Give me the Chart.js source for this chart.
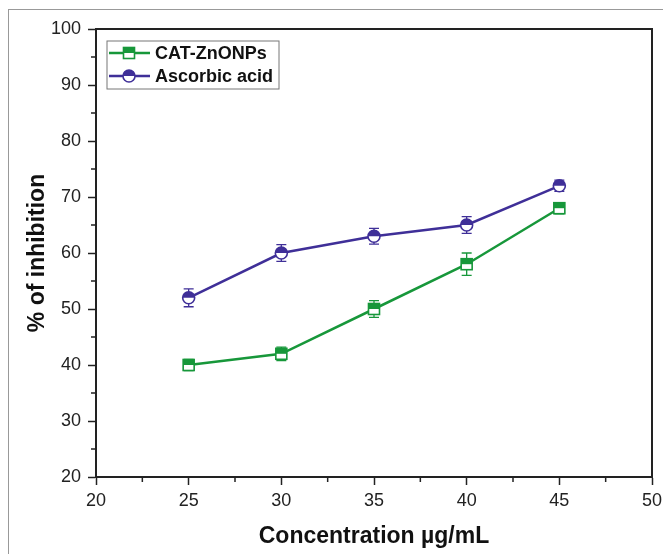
<!DOCTYPE html>
<html>
<head>
<meta charset="utf-8">
<script src="https://cdn.jsdelivr.net/npm/chart.js@4.4.1/dist/chart.umd.min.js"></script>
<style>
  html, body { margin: 0; padding: 0; background: #fff; }
  #wrap { position: relative; width: 663px; height: 554px; }
  #frame { position: absolute; left: 8px; top: 9px; right: -2px; bottom: -2px;
           border-left: 1.5px solid #999; border-top: 1.5px solid #999; }
</style>
</head>
<body>
<div id="wrap">
  <canvas id="chart1" width="663" height="554"></canvas>
  <div id="frame"></div>
</div>
<script>
// data
var concentrations = [25, 30, 35, 40, 45];
var catZnONPs = [40, 42, 50, 58, 68];
var catErr = [1, 1.2, 1.5, 2, 1];
var ascorbicAcid = [52, 60, 63, 65, 72];
var ascErr = [1.6, 1.5, 1.4, 1.5, 1];
var xTicks = [20, 25, 30, 35, 40, 45, 50];
var yTicks = [20, 30, 40, 50, 60, 70, 80, 90, 100];

var green = '#17973a';
var purple = '#3f2f98';
var axisColor = '#222';
var fontFamily = '"Liberation Sans", Arial, sans-serif';

function toPoints(xs, ys) {
    return xs.map(function (x, i) { return { x: x, y: ys[i] }; });
}

// draws a marker whose top half is filled and bottom half white
function drawMarker(ctx, shape, x, y, color) {
    ctx.save();
    ctx.lineWidth = 1.6;
    ctx.strokeStyle = color;
    if (shape === 'square') {
        var s = 5.5;
        ctx.fillStyle = '#fff';
        ctx.fillRect(x - s, y - s, 2 * s, 2 * s);
        ctx.fillStyle = color;
        ctx.fillRect(x - s, y - s, 2 * s, s);
        ctx.strokeRect(x - s, y - s, 2 * s, 2 * s);
    } else {
        var r = 6;
        ctx.beginPath();
        ctx.arc(x, y, r, 0, Math.PI * 2);
        ctx.fillStyle = '#fff';
        ctx.fill();
        ctx.beginPath();
        ctx.arc(x, y, r, Math.PI, Math.PI * 2);
        ctx.closePath();
        ctx.fillStyle = color;
        ctx.fill();
        ctx.beginPath();
        ctx.arc(x, y, r, 0, Math.PI * 2);
        ctx.stroke();
    }
    ctx.restore();
}

var extrasPlugin = {
    id: 'extras',
    afterDraw: function (chart) {
        var ctx = chart.ctx;
        var area = chart.chartArea;
        var xs = chart.scales.x;
        var ys = chart.scales.y;

        // top and right frame lines
        ctx.save();
        ctx.strokeStyle = axisColor;
        ctx.lineWidth = 2;
        ctx.beginPath();
        ctx.moveTo(area.left, area.top);
        ctx.lineTo(area.right, area.top);
        ctx.lineTo(area.right, area.bottom);
        ctx.stroke();

        // minor ticks
        ctx.lineWidth = 1.5;
        ctx.beginPath();
        for (var i = 0; i < xTicks.length - 1; i++) {
            var mx = xs.getPixelForValue((xTicks[i] + xTicks[i + 1]) / 2);
            ctx.moveTo(mx, area.bottom);
            ctx.lineTo(mx, area.bottom + 5);
        }
        for (var j = 0; j < yTicks.length - 1; j++) {
            var my = ys.getPixelForValue((yTicks[j] + yTicks[j + 1]) / 2);
            ctx.moveTo(area.left, my);
            ctx.lineTo(area.left - 5, my);
        }
        ctx.stroke();
        ctx.restore();

        // error bars and markers
        chart.data.datasets.forEach(function (ds, di) {
            var meta = chart.getDatasetMeta(di);
            meta.data.forEach(function (pt, k) {
                var v = ds.data[k].y;
                var e = ds.errors[k];
                var yTop = ys.getPixelForValue(v + e);
                var yBot = ys.getPixelForValue(v - e);
                ctx.save();
                ctx.strokeStyle = ds.borderColor;
                ctx.lineWidth = 1.3;
                ctx.beginPath();
                ctx.moveTo(pt.x, yTop); ctx.lineTo(pt.x, yBot);
                ctx.moveTo(pt.x - 5, yTop); ctx.lineTo(pt.x + 5, yTop);
                ctx.moveTo(pt.x - 5, yBot); ctx.lineTo(pt.x + 5, yBot);
                ctx.stroke();
                ctx.restore();
                drawMarker(ctx, ds.markerShape, pt.x, pt.y, ds.borderColor);
            });
        });

        // legend box inside the plot
        var lx = area.left + 11, ly = area.top + 12, lw = 172, lh = 48;
        ctx.save();
        ctx.strokeStyle = '#777';
        ctx.lineWidth = 1;
        ctx.strokeRect(lx, ly, lw, lh);
        ctx.font = 'bold 18px ' + fontFamily;
        ctx.textBaseline = 'middle';
        chart.data.datasets.forEach(function (ds, di) {
            var ry = ly + 12 + di * 23;
            ctx.strokeStyle = ds.borderColor;
            ctx.lineWidth = 2.5;
            ctx.beginPath();
            ctx.moveTo(lx + 2, ry);
            ctx.lineTo(lx + 43, ry);
            ctx.stroke();
            drawMarker(ctx, ds.markerShape, lx + 22, ry, ds.borderColor);
            ctx.fillStyle = '#111';
            ctx.fillText(ds.label, lx + 48, ry + 1);
        });
        ctx.restore();
    }
};

var chartCanvas1 = document.getElementById('chart1');
var configCanvas1 = {
    type: 'line',
    data: {
        datasets: [{
            label: 'CAT-ZnONPs',
            data: toPoints(concentrations, catZnONPs),
            errors: catErr,
            markerShape: 'square',
            borderColor: green,
            backgroundColor: green,
            borderWidth: 2.5,
            pointRadius: 0,
            tension: 0
        }, {
            label: 'Ascorbic acid',
            data: toPoints(concentrations, ascorbicAcid),
            errors: ascErr,
            markerShape: 'circle',
            borderColor: purple,
            backgroundColor: purple,
            borderWidth: 2.5,
            pointRadius: 0,
            tension: 0
        }]
    },
    options: {
        responsive: false,
        animation: false,
        layout: { padding: { left: 20, top: 29, right: 11, bottom: 0 } },
        plugins: {
            legend: { display: false },
            tooltip: { enabled: false }
        },
        scales: {
            x: {
                type: 'linear',
                min: 20,
                max: 50,
                afterBuildTicks: function (scale) {
                    scale.ticks = xTicks.map(function (v) { return { value: v }; });
                },
                afterFit: function (scale) {
                    scale.height = 77;
                    scale.paddingRight = 0;
                },
                ticks: {
                    color: axisColor,
                    font: { family: fontFamily, size: 18 },
                    padding: 5,
                    maxRotation: 0
                },
                grid: {
                    drawOnChartArea: false,
                    drawTicks: true,
                    tickLength: 8,
                    tickColor: axisColor,
                    tickWidth: 1.5
                },
                border: { display: true, color: axisColor, width: 2 },
                title: {
                    display: true,
                    text: 'Concentration µg/mL',
                    color: '#111',
                    font: { family: fontFamily, size: 23, weight: 'bold' },
                    padding: { top: 8 }
                }
            },
            y: {
                min: 20,
                max: 100,
                afterBuildTicks: function (scale) {
                    scale.ticks = yTicks.map(function (v) { return { value: v }; });
                },
                afterFit: function (scale) { scale.width = 76; },
                ticks: {
                    color: axisColor,
                    font: { family: fontFamily, size: 18 },
                    padding: 7
                },
                grid: {
                    drawOnChartArea: false,
                    drawTicks: true,
                    tickLength: 8,
                    tickColor: axisColor,
                    tickWidth: 1.5
                },
                border: { display: true, color: axisColor, width: 2 },
                title: {
                    display: true,
                    text: '% of inhibition',
                    color: '#111',
                    font: { family: fontFamily, size: 23, weight: 'bold' },
                    padding: { bottom: 2 }
                }
            }
        }
    },
    plugins: [extrasPlugin]
};

var myChart1 = new Chart(chartCanvas1, configCanvas1);
</script>
</body>
</html>
